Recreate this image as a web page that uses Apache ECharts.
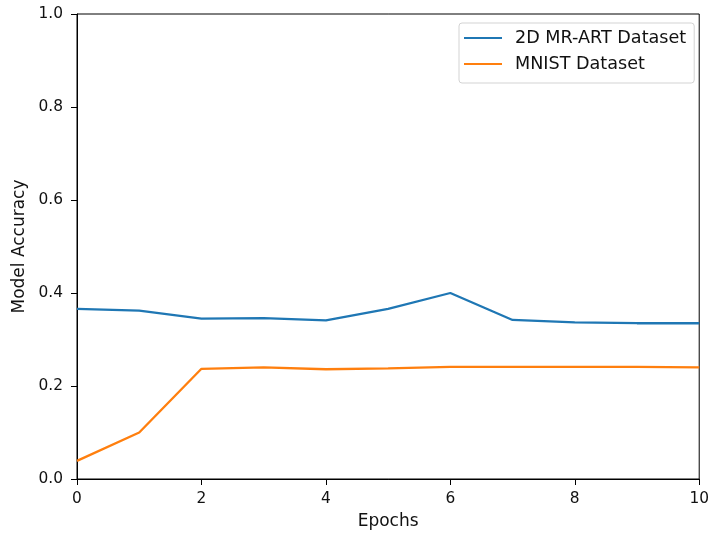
<!DOCTYPE html>
<html>
<head>
<meta charset="utf-8">
<script src="https://cdn.jsdelivr.net/npm/echarts@6/dist/echarts.min.js"></script>
<style>
  html, body { margin: 0; padding: 0; background: #fff; }
  #chart { width: 712px; height: 537px; }
</style>
</head>
<body>
<div id="chart"></div>
<script>
// Training epochs and per-epoch accuracy for each dataset
const epochs = [0, 1, 2, 3, 4, 5, 6, 7, 8, 9, 10];
const mrArtAccuracy = [0.366, 0.362, 0.345, 0.346, 0.341, 0.366, 0.400, 0.342, 0.337, 0.335, 0.335];
const mnistAccuracy = [0.039, 0.100, 0.237, 0.240, 0.236, 0.238, 0.241, 0.241, 0.241, 0.241, 0.240];
const seriesNames = ['2D MR-ART Dataset', 'MNIST Dataset'];
const seriesColors = ['#1f77b4', '#ff7f0e'];

const pairs = (ys) => epochs.map((x, i) => [x, ys[i]]);
const font = 'DejaVu Sans';
const textColor = '#111';

const chart = echarts.init(document.getElementById('chart'), null, { renderer: 'canvas' });
chart.setOption({
  animation: false,
  backgroundColor: '#fff',
  textStyle: { fontFamily: font },
  grid: {
    left: 77, right: 10, top: 14, bottom: 58,
    show: true, borderColor: '#000', borderWidth: 1, backgroundColor: 'transparent'
  },
  legend: {
    orient: 'vertical',
    left: 459, top: 23,
    padding: [5, 8, 9, 5],
    itemGap: 6,
    itemWidth: 38, itemHeight: 2,
    icon: 'rect',
    borderColor: '#d3d3d3', borderWidth: 1, borderRadius: 3,
    backgroundColor: 'rgba(255,255,255,0.8)',
    textStyle: { fontFamily: font, fontSize: 17.6, lineHeight: 20, color: textColor, padding: [0, 0, 0, 8] },
    data: seriesNames
  },
  xAxis: {
    type: 'value', min: 0, max: 10, interval: 2,
    name: 'Epochs', nameLocation: 'middle', nameGap: 34,
    nameTextStyle: { fontFamily: font, fontSize: 17, color: textColor },
    axisLine: { show: true, lineStyle: { color: '#000', width: 1 } },
    axisTick: { show: true, length: 6, lineStyle: { color: '#000' } },
    axisLabel: { fontFamily: font, fontSize: 15.4, color: textColor, margin: 12 },
    splitLine: { show: false }
  },
  yAxis: {
    type: 'value', min: 0, max: 1, interval: 0.2,
    name: 'Model Accuracy', nameLocation: 'middle', nameGap: 48,
    nameTextStyle: { fontFamily: font, fontSize: 17, color: textColor },
    axisLine: { show: true, lineStyle: { color: '#000', width: 1 } },
    axisTick: { show: true, length: 6, lineStyle: { color: '#000' } },
    axisLabel: { fontFamily: font, fontSize: 15.4, color: textColor, margin: 14,
      formatter: (v) => v.toFixed(1) },
    splitLine: { show: false }
  },
  series: [
    {
      name: seriesNames[0], type: 'line', data: pairs(mrArtAccuracy),
      showSymbol: false, color: seriesColors[0],
      lineStyle: { width: 2.3, color: seriesColors[0] }
    },
    {
      name: seriesNames[1], type: 'line', data: pairs(mnistAccuracy),
      showSymbol: false, color: seriesColors[1],
      lineStyle: { width: 2.3, color: seriesColors[1] }
    }
  ]
});
</script>
</body>
</html>
